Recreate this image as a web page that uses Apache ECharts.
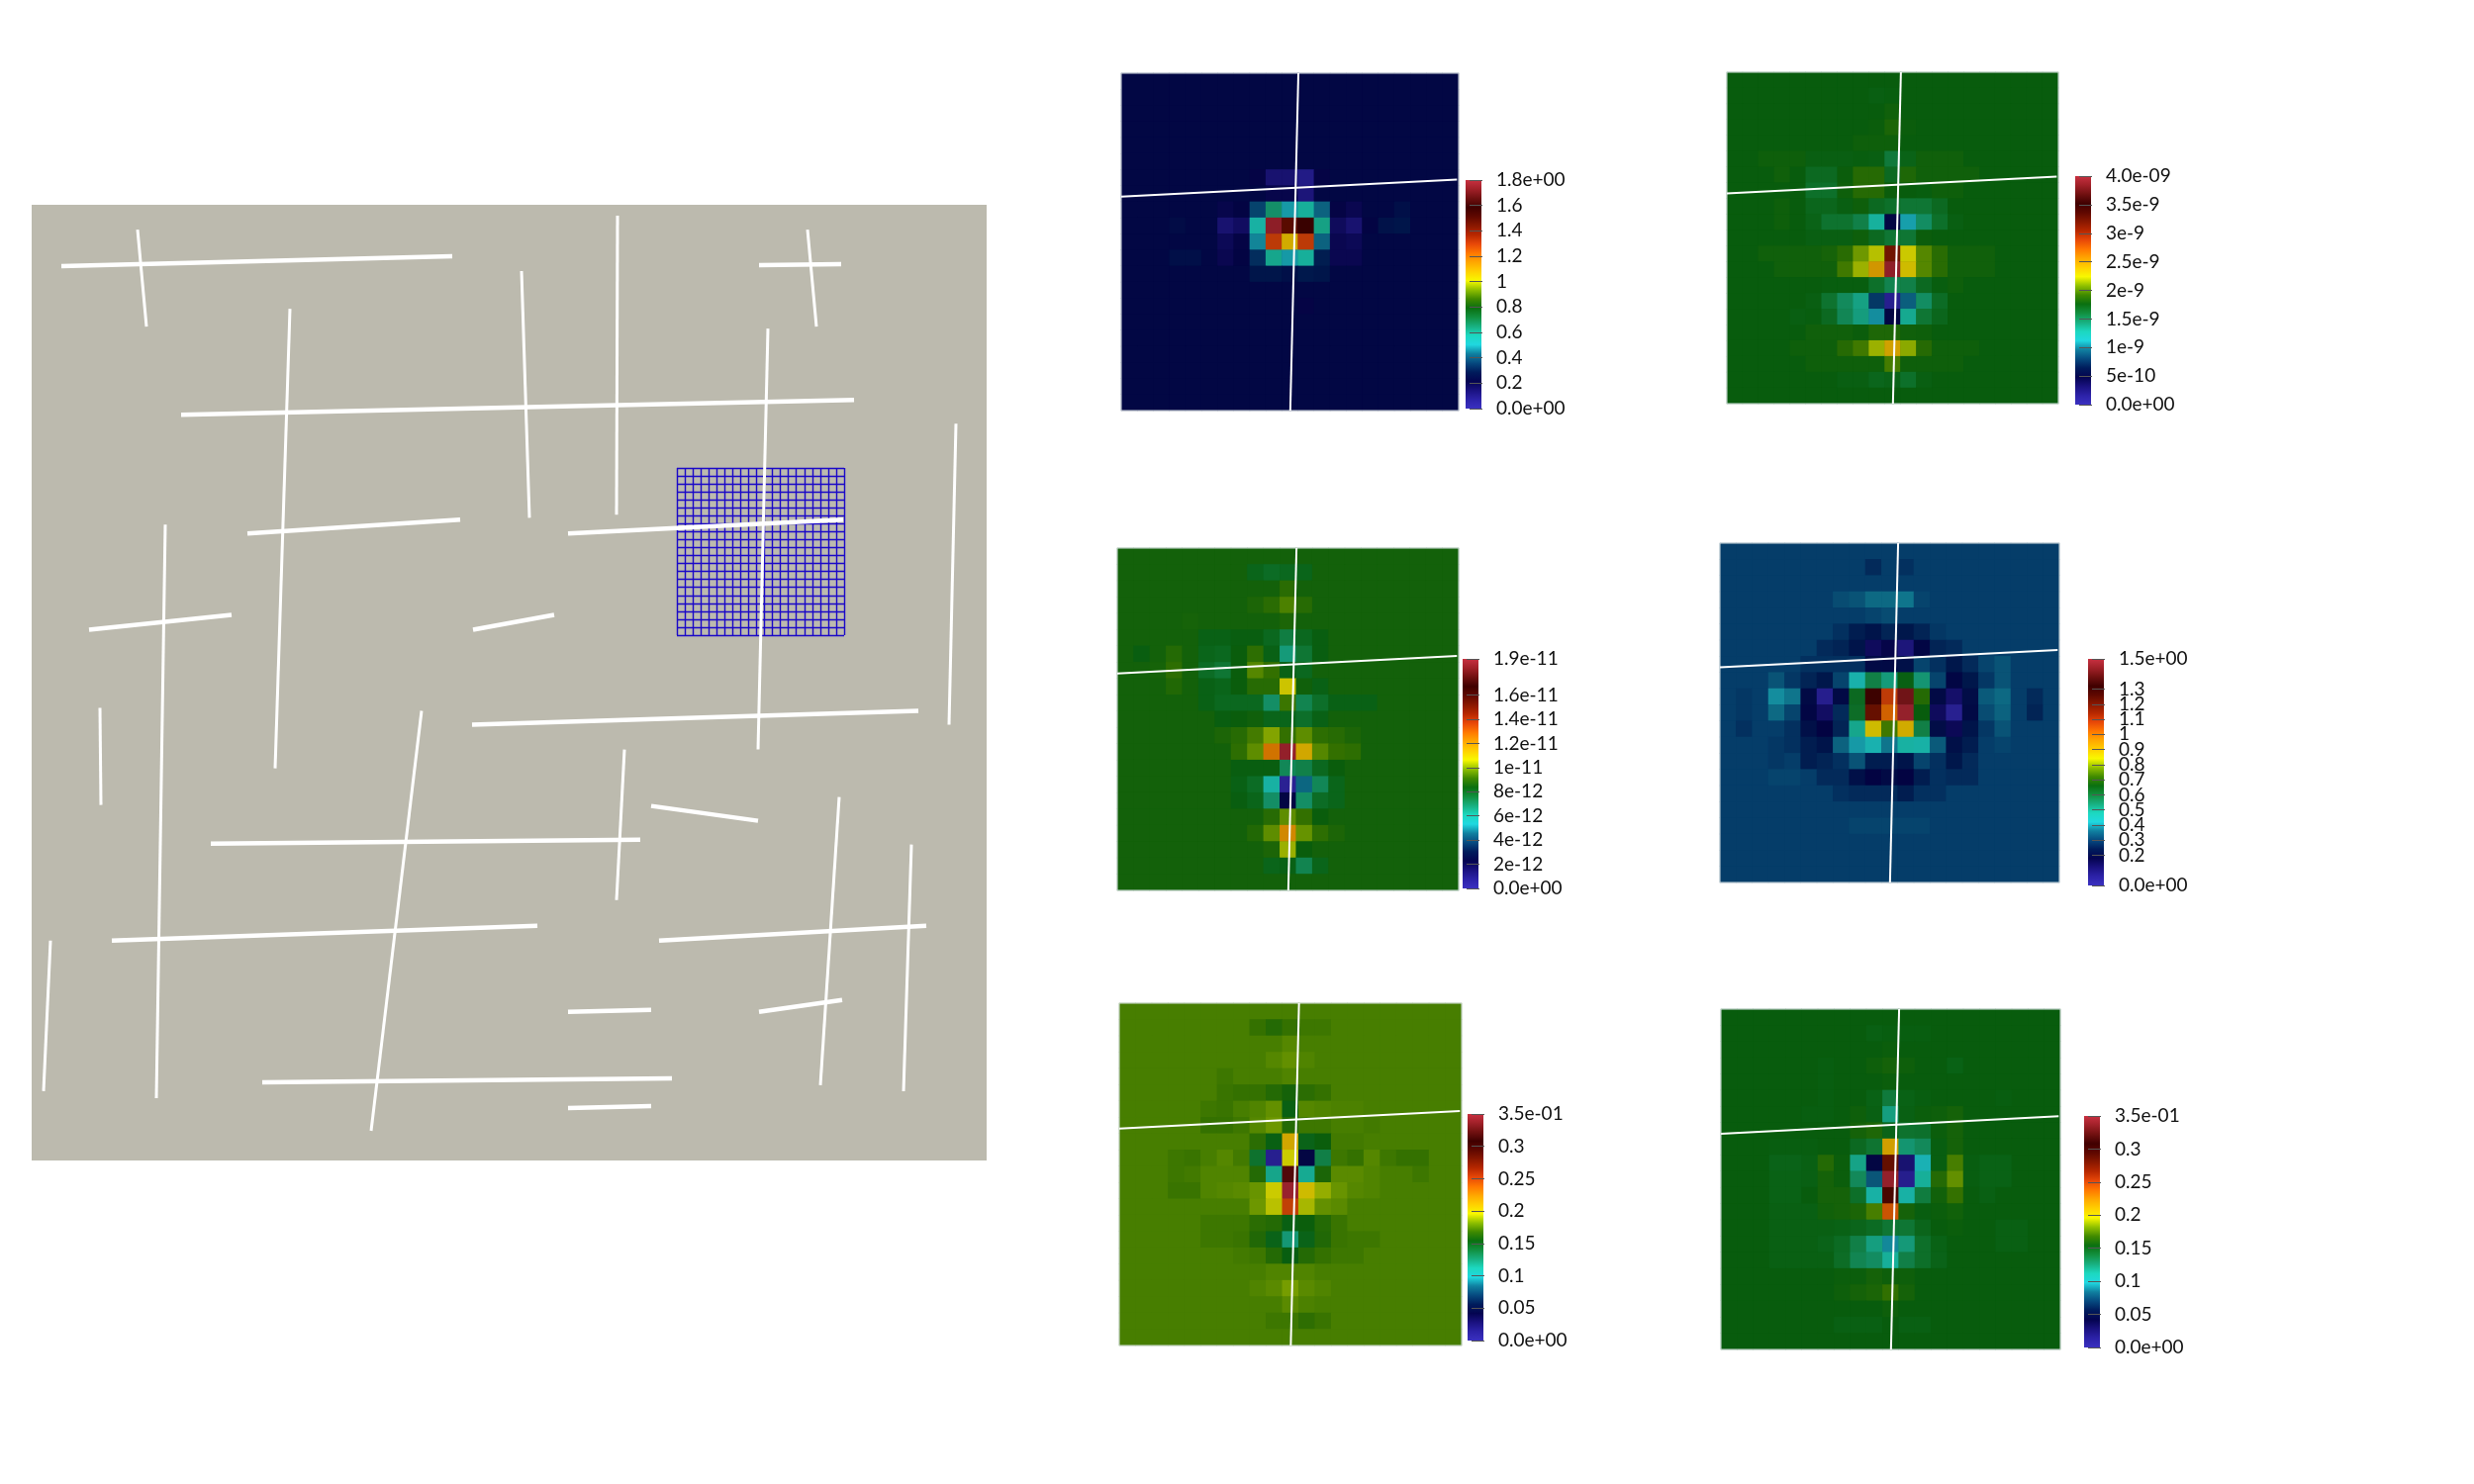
<!DOCTYPE html>
<html>
<head>
<meta charset="utf-8">
<title>Fracture network and local basis functions</title>
<script src="https://cdn.jsdelivr.net/npm/echarts@6/dist/echarts.min.js"></script>
<style>
    html, body { margin: 0; padding: 0; background: #fff; }
    #main { width: 2500px; height: 1500px; }
</style>
</head>
<body>
<div id="main"></div>
<script>
// fracture segments of the domain, [x0, y0, x1, y1], domain units, y up
var thickFractures = [
    [30,903,425,913], [735,904,818,905], [151,753,831,768], [218,633,433,647],
    [542,633,820,647], [58,536,202,551], [446,536,528,551], [445,440,896,454],
    [626,358,734,343], [181,320,615,324], [81,222,511,237], [634,222,904,237],
    [542,150,626,152], [735,150,819,162], [233,79,647,83], [542,53,626,55]
];
var thinFractures = [
    [107,940,116,842], [592,954,591,652], [495,898,503,649], [784,940,793,842],
    [261,860,246,396], [744,840,734,415], [934,744,927,440], [135,642,126,63],
    [69,457,70,359], [394,454,343,30], [599,415,591,263], [816,367,797,76],
    [889,319,881,70], [19,222,12,70]
];
var domainSize = 965;
var meshCells = 21;

// the two fractures crossing a local patch, as fractions of the patch
var patchHorizontal = [0, 0.366, 0.995, 0.315];
var patchVertical = [0.525, 0, 0.501, 1];

// each field: constant background + runs [row, first column, values...]
var background1 = 0.23;
var runs1 = [
    [6, 8, .21,.13,.13,.08,.21],
    [7, 9, .2,.2,.11],
    [8, 6, .2,.22,.37,.65,.48,.58,.42,.21,.19],
    [8, 17, .26],
    [9, 3, .25],
    [9, 6, .13,.16,.56,1.75,1.49,1.57,.61,.17,.13,.22,.27,.28],
    [10, 6, .18,.21,.46,1.30,1.08,1.30,.42,.19,.18],
    [11, 3, .26,.26],
    [11, 6, .19,.22,.33,.60,.48,.58,.30,.19,.19],
    [12, 8, .28,.28,.26,.29,.28],
    [14, 11, .21]
];
var ticks1 = [0, .2, .4, .6, .8, 1, 1.2, 1.4, 1.6, 1.8];
var tickLabels1 = ['0.0e+00','0.2','0.4','0.6','0.8','1','1.2','1.4','1.6','1.8e+00'];

// in units of 1e-9
var background2 = 1.76;
var runs2 = [
    [1, 9, 1.74,1.75],
    [2, 10, 1.79],
    [3, 9, 1.77,1.83,1.77],
    [4, 8, 1.78,1.78,1.78],
    [5, 2, 1.78,1.78,1.78,1.74,1.74,1.74,1.75,1.74,1.58,1.72,1.79,1.79,1.79],
    [6, 3, 1.79,1.76,1.68,1.68,1.77,1.87,1.87,1.68,1.84,1.79,1.79,1.79,1.79],
    [7, 5, 1.64,1.64,1.78,1.87,1.87,1.77,1.76,1.75,1.78,1.78],
    [8, 3, 1.78,1.76,1.70,1.70,1.74,1.78,1.68,1.64,1.6,1.6,1.68],
    [9, 3, 1.78,1.76,1.72,1.62,1.62,1.54,1.28,.5,1.08,1.46,1.64,1.74],
    [10, 5, 1.74,1.74,1.74,1.78,1.68,1.6,1.6,1.77],
    [11, 2, 1.79,1.79,1.79,1.79,1.81,1.88,2.06,2.2,3.2,2.25,2.0,1.88,1.79,1.79,1.79],
    [12, 3, 1.79,1.79,1.79,1.79,1.95,2.15,2.5,3.9,2.32,2.0,1.88,1.79,1.79,1.79],
    [13, 6, 1.75,1.75,1.75,1.64,1.52,1.54,1.68,1.75,1.78],
    [14, 5, 1.74,1.62,1.48,1.36,.78,.12,.92,1.46,1.66],
    [15, 4, 1.74,1.75,1.68,1.5,1.38,1.04,.5,1.32,1.6,1.7],
    [16, 5, 1.79,1.79,1.79,1.77,1.84,1.84,1.79,1.78,1.76],
    [17, 4, 1.78,1.78,1.78,1.87,1.95,2.15,2.45,2.12,1.87,1.78,1.78,1.78],
    [18, 5, 1.78,1.78,1.78,1.78,1.78,1.96,1.78,1.78,1.78,1.78],
    [19, 7, 1.74,1.74,1.7,1.72,1.64,1.74]
];
var ticks2 = [0, .5, 1, 1.5, 2, 2.5, 3, 3.5, 4];
var tickLabels2 = ['0.0e+00','5e-10','1e-9','1.5e-9','2e-9','2.5e-9','3e-9','3.5e-9','4.0e-09'];

// in units of 1e-12
var background3 = 8.55;
var runs3 = [
    [1, 8, 8.1,7.9,8.0,8.1],
    [2, 10, 8.95],
    [3, 8, 8.7,8.95,9.4,8.9],
    [4, 4, 8.6],
    [4, 10, 8.7],
    [5, 5, 8.2,8.2,8.3,8.3,8.0,7.4,8.0,8.3],
    [6, 1, 8.3,8.55,8.85,8.55,8.1,8.0,8.4,9.0,8.2,6.6,7.6,8.3],
    [7, 2, 8.6,9.0,8.55,7.9,7.6,8.4,9.5,9.1,8.2,8.0],
    [8, 3, 8.8,8.55,8.2,8.1,8.4,8.9,8.9,10.8,8.5,8.2],
    [9, 5, 8.2,8.0,8.0,8.0,6.9,9.2,7.2,7.8,8.2,8.2,8.2],
    [10, 6, 8.3,8.4,8.5,8.1,8.1,7.8,8.2],
    [11, 6, 8.7,8.9,9.3,10.0,9.1,9.6,9.0,8.9,8.7],
    [12, 7, 9.0,9.6,12.6,18.6,11.5,9.5,9.1,9.0],
    [13, 7, 8.3,8.3,8.3,7.1,7.3,8.0,8.4],
    [14, 7, 8.2,7.9,5.9,.4,4.5,7.1,8.1],
    [15, 7, 8.3,8.1,6.9,2.4,6.9,7.9,8.1],
    [16, 9, 8.9,9.6,9.1,8.4],
    [17, 8, 8.8,9.6,12.2,9.7,9.0,8.7],
    [18, 9, 8.7,10.2,8.4],
    [19, 9, 8.1,8.2,7.2,8.1]
];
var ticks3 = [0, 2, 4, 6, 8, 10, 12, 14, 16, 19];
var tickLabels3 = ['0.0e+00','2e-12','4e-12','6e-12','8e-12','1e-11','1.2e-11','1.4e-11','1.6e-11','1.9e-11'];

var background4 = 0.30;
var runs4 = [
    [1, 9, .27,.30,.28],
    [3, 7, .32,.33,.36,.36,.37,.31],
    [4, 9, .31,.32],
    [5, 7, .28,.25,.23,.26,.24,.26,.29],
    [6, 6, .27,.26,.23,.14,.17,.09,.19,.26,.27],
    [7, 5, .28,.28,.28,.28,.2,.2,.22,.31,.28,.24,.27,.31,.33],
    [8, 3, .33,.29,.26,.24,.31,.45,.58,.52,.65,.53,.31,.19,.24,.29,.33],
    [9, 1, .29,.30,.39,.37,.2,.05,.2,.63,1.3,1.08,1.41,.7,.2,.12,.21,.34,.36,.30,.27],
    [10, 1, .29,.30,.36,.31,.19,.13,.27,.62,1.22,1.02,1.47,.66,.14,.04,.2,.32,.35,.30,.26],
    [11, 1, .28,.30,.3,.28,.22,.18,.26,.5,.87,.73,.9,.58,.21,.15,.23,.29,.33],
    [12, 3, .29,.28,.25,.23,.35,.4,.44,.37,.47,.46,.34,.22,.25,.30,.31],
    [13, 3, .29,.30,.25,.26,.28,.33,.25,.25,.23,.31,.28,.24,.27],
    [14, 3, .31,.31,.30,.27,.27,.22,.18,.2,.18,.25,.28,.27,.27],
    [15, 7, .28,.27,.27,.27,.25,.28,.28],
    [17, 8, .31,.31,.31,.31,.31]
];
var ticks4 = [0, .2, .3, .4, .5, .6, .7, .8, .9, 1, 1.1, 1.2, 1.3, 1.5];
var tickLabels4 = ['0.0e+00','0.2','0.3','0.4','0.5','0.6','0.7','0.8','0.9','1','1.1','1.2','1.3','1.5e+00'];

var background5 = 0.172;
var runs5 = [
    [1, 8, .168,.163,.168,.170,.170],
    [2, 10, .175],
    [3, 8, .172,.175,.178,.174],
    [4, 6, .170],
    [4, 10, .174],
    [5, 6, .169,.168,.168,.163,.158,.165,.168],
    [6, 5, .170,.169,.172,.174,.178,.152,.175,.174,.173,.173,.172],
    [7, 5, .168,.168,.170,.175,.180,.163,.170,.170,.172,.172,.171],
    [8, 8, .165,.152,.212,.15,.155,.171,.171],
    [9, 3, .170,.169,.172,.175,.171,.142,.01,.196,.044,.135,.170,.168,.175,.170,.168,.168],
    [10, 3, .170,.171,.174,.174,.174,.163,.117,.318,.115,.160,.176,.176,.174],
    [10, 18, .170],
    [11, 3, .169,.169,.174,.175,.176,.179,.196,.345,.203,.187,.179,.175,.174],
    [12, 7, .172,.180,.193,.25,.19,.178,.176,.172],
    [13, 5, .170,.170,.170,.165,.163,.152,.155,.163,.169],
    [14, 5, .170,.170,.169,.162,.150,.123,.150,.162,.169,.170,.170],
    [15, 7, .171,.170,.163,.153,.163,.168,.170,.170],
    [16, 9, .174,.174,.174],
    [17, 8, .174,.176,.182,.176,.174],
    [18, 10, .176,.173],
    [19, 9, .170,.170,.166,.169]
];
var ticks5 = [0, .05, .1, .15, .2, .25, .3, .35];
var tickLabels5 = ['0.0e+00','0.05','0.1','0.15','0.2','0.25','0.3','3.5e-01'];

var background6 = 0.154;
var runs6 = [
    [1, 9, .152,.153,.153,.153],
    [2, 10, .155],
    [3, 6, .153],
    [3, 9, .156,.158,.156],
    [3, 14, .151],
    [4, 6, .153],
    [4, 10, .155],
    [5, 6, .153],
    [5, 9, .151,.138,.151,.153],
    [5, 17, .153],
    [6, 5, .153,.153,.154,.156,.152,.12,.152,.155,.156,.158],
    [7, 8, .158,.161,.150,.142,.143,.155,.158],
    [8, 3, .153,.153,.153,.154,.154,.147,.141,.215,.124,.13,.153,.158],
    [9, 3, .150,.150,.152,.163,.155,.118,.044,.285,.025,.1,.153,.172,.153,.151,.151],
    [10, 3, .151,.151,.152,.158,.155,.13,.078,.343,.012,.113,.163,.178,.153,.151,.151],
    [11, 3, .151,.151,.154,.158,.158,.144,.108,.297,.108,.137,.157,.168,.154,.152],
    [12, 3, .152,.152,.152,.157,.158,.160,.172,.243,.158,.153,.155,.157],
    [13, 3, .152,.152,.152,.152,.151,.149,.146,.14,.14,.149,.154,.155],
    [13, 17, .152,.152],
    [14, 3, .152,.152,.152,.150,.146,.135,.12,.09,.122,.144,.151],
    [14, 17, .152,.152],
    [15, 3, .152,.152,.152,.152,.145,.132,.128,.113,.135,.144,.150],
    [16, 7, .155,.155,.158,.156,.156],
    [17, 7, .156,.158,.160,.167,.158],
    [18, 10, .156],
    [19, 7, .152,.152,.152,.154,.152,.152]
];
var ticks6 = [0, .05, .1, .15, .2, .25, .3, .35];
var tickLabels6 = ['0.0e+00','0.05','0.1','0.15','0.2','0.25','0.3','3.5e-01'];

var fields = [
    {background: background1, runs: runs1, ticks: ticks1, labels: tickLabels1, max: 1.8},
    {background: background2, runs: runs2, ticks: ticks2, labels: tickLabels2, max: 4},
    {background: background3, runs: runs3, ticks: ticks3, labels: tickLabels3, max: 19},
    {background: background4, runs: runs4, ticks: ticks4, labels: tickLabels4, max: 1.5},
    {background: background5, runs: runs5, ticks: ticks5, labels: tickLabels5, max: .35},
    {background: background6, runs: runs6, ticks: ticks6, labels: tickLabels6, max: .35}
];

// page layout of the patches and their colour bars, in px
var layouts = [
    {left: 1133, top: 74, size: [341, 341], bar: [1481, 182, 16, 231]},
    {left: 1745, top: 73, size: [335, 335], bar: [2097, 178, 16, 231]},
    {left: 1129, top: 554, size: [345, 346], bar: [1478, 666, 16, 232]},
    {left: 1738, top: 549, size: [343, 343], bar: [2110, 666, 16, 229]},
    {left: 1131, top: 1014, size: [346, 346], bar: [1483, 1126, 16, 229]},
    {left: 1739, top: 1020, size: [343, 344], bar: [2106, 1128, 16, 234]}
];

// colour bar, evenly spaced from min to max
var barColors = [
    '#3a30c0','#2c22a8','#1a1280','#040450','#001c5c','#064a80','#1080a0','#20d8e0',
    '#1cd8c0','#18b080','#129040','#0a7010','#408a00','#90c000','#f8f800','#ffd000',
    '#ffa800','#ff7800','#e84808','#b82800','#8a1800','#600800','#400000','#701010',
    '#a02028','#c83040'
];
// the lit surfaces come out a bit darker than the legend bar
var cellColors = barColors.map(function (c) {
    var rgb = echarts.color.parse(c);
    return 'rgb(' + Math.round(rgb[0] * 0.82) + ',' + Math.round(rgb[1] * 0.82) + ',' + Math.round(rgb[2] * 0.82) + ')';
});
var fontName = 'Lato';

function buildField(field) {
    var rows = [];
    for (var r = 0; r < meshCells; r++) {
        rows.push([]);
        for (var c = 0; c < meshCells; c++) {
            rows[r].push(field.background);
        }
    }
    field.runs.forEach(function (run) {
        for (var i = 2; i < run.length; i++) {
            rows[run[0]][run[1] + i - 2] = run[i];
        }
    });
    var out = [];
    rows.forEach(function (row, r) {
        row.forEach(function (v, c) { out.push([c, r, v]); });
    });
    return out;
}

function segment(s) {
    return {coords: [[s[0], s[1]], [s[2], s[3]]]};
}

var grid = [], xAxis = [], yAxis = [], series = [], visualMap = [];
var hidden = {show: false};

function plainValueAxis(max, extra) {
    return Object.assign({
        type: 'value', min: 0, max: max,
        axisLine: hidden, axisTick: hidden, axisLabel: hidden, splitLine: hidden
    }, extra || {});
}

// big domain
grid.push({left: 32, top: 207, width: 965, height: 966, show: true,
    backgroundColor: '#bcbaae', borderWidth: 0, z: 0});
xAxis.push(plainValueAxis(domainSize, {gridIndex: 0}));
yAxis.push(plainValueAxis(domainSize, {gridIndex: 0}));

// local mesh
var meshLine = {show: true, lineStyle: {color: '#1a08c8', width: 1.4}};
grid.push({left: 684, top: 473, width: 169, height: 169, show: false});
xAxis.push(plainValueAxis(meshCells, {gridIndex: 1, interval: 1, splitLine: meshLine, z: 1}));
yAxis.push(plainValueAxis(meshCells, {gridIndex: 1, interval: 1, splitLine: meshLine, z: 1}));

series.push({
    type: 'lines', coordinateSystem: 'cartesian2d', xAxisIndex: 0, yAxisIndex: 0, z: 4, silent: true,
    lineStyle: {color: '#fff', width: 4.5, opacity: 1, curveness: 0},
    data: thickFractures.map(segment)
});
series.push({
    type: 'lines', coordinateSystem: 'cartesian2d', xAxisIndex: 0, yAxisIndex: 0, z: 4, silent: true,
    lineStyle: {color: '#fff', width: 3, opacity: 1, curveness: 0},
    data: thinFractures.map(segment)
});

var categories = [];
for (var k = 0; k < meshCells; k++) {
    categories.push(String(k));
}

fields.forEach(function (field, i) {
    var box = layouts[i];
    var cellGrid = grid.length;

    // cells
    grid.push({left: box.left, top: box.top, width: box.size[0], height: box.size[1], show: true,
        borderWidth: 0,
        backgroundColor: echarts.color.lerp(field.background / field.max, cellColors)});
    xAxis.push({type: 'category', gridIndex: cellGrid, data: categories, show: false});
    yAxis.push({type: 'category', gridIndex: cellGrid, data: categories, show: false, inverse: true});
    visualMap.push({
        type: 'continuous', show: false, min: 0, max: field.max,
        seriesIndex: series.length, dimension: 2,
        inRange: {color: cellColors}
    });
    series.push({
        type: 'heatmap', xAxisIndex: cellGrid, yAxisIndex: cellGrid, z: 2, silent: true,
        progressive: 0, data: buildField(field)
    });

    // white fractures on top of the cells
    var lineGrid = grid.length;
    grid.push({left: box.left, top: box.top, width: box.size[0], height: box.size[1], show: true,
        backgroundColor: 'transparent', borderColor: '#d5dee0', borderWidth: 1, z: 3});
    xAxis.push(plainValueAxis(1, {gridIndex: lineGrid}));
    yAxis.push(plainValueAxis(1, {gridIndex: lineGrid, inverse: true}));
    series.push({
        type: 'lines', coordinateSystem: 'cartesian2d', xAxisIndex: lineGrid, yAxisIndex: lineGrid,
        z: 4, silent: true,
        lineStyle: {color: '#fff', width: 2, opacity: 1, curveness: 0},
        data: [segment(patchHorizontal), segment(patchVertical)]
    });

    // colour bar, with its ticks
    var barGrid = grid.length;
    grid.push({left: box.bar[0], top: box.bar[1], width: box.bar[2], height: box.bar[3], show: true,
        borderWidth: 0,
        backgroundColor: new echarts.graphic.LinearGradient(0, 1, 0, 0, barColors.map(function (c, n) {
            return {offset: n / (barColors.length - 1), color: c};
        }))
    });
    xAxis.push(plainValueAxis(1, {gridIndex: barGrid}));
    yAxis.push({
        type: 'value', gridIndex: barGrid, position: 'right', offset: -4, min: 0, max: field.max,
        axisLine: hidden, splitLine: hidden,
        axisTick: {show: true, customValues: field.ticks, length: 13, lineStyle: {color: '#555', width: 1}},
        axisLabel: {
            show: true, customValues: field.ticks, margin: 19, padding: [0, 0, 3, 0],
            color: '#111', fontFamily: fontName, fontSize: 19,
            formatter: function (v) {
                return field.labels[field.ticks.indexOf(v)];
            }
        }
    });
});

var my_chart = echarts.init(document.getElementById('main'), null, {renderer: 'canvas'});
my_chart.setOption({
    animation: false,
    backgroundColor: '#fff',
    grid: grid,
    xAxis: xAxis,
    yAxis: yAxis,
    visualMap: visualMap,
    series: series
});
</script>
</body>
</html>
